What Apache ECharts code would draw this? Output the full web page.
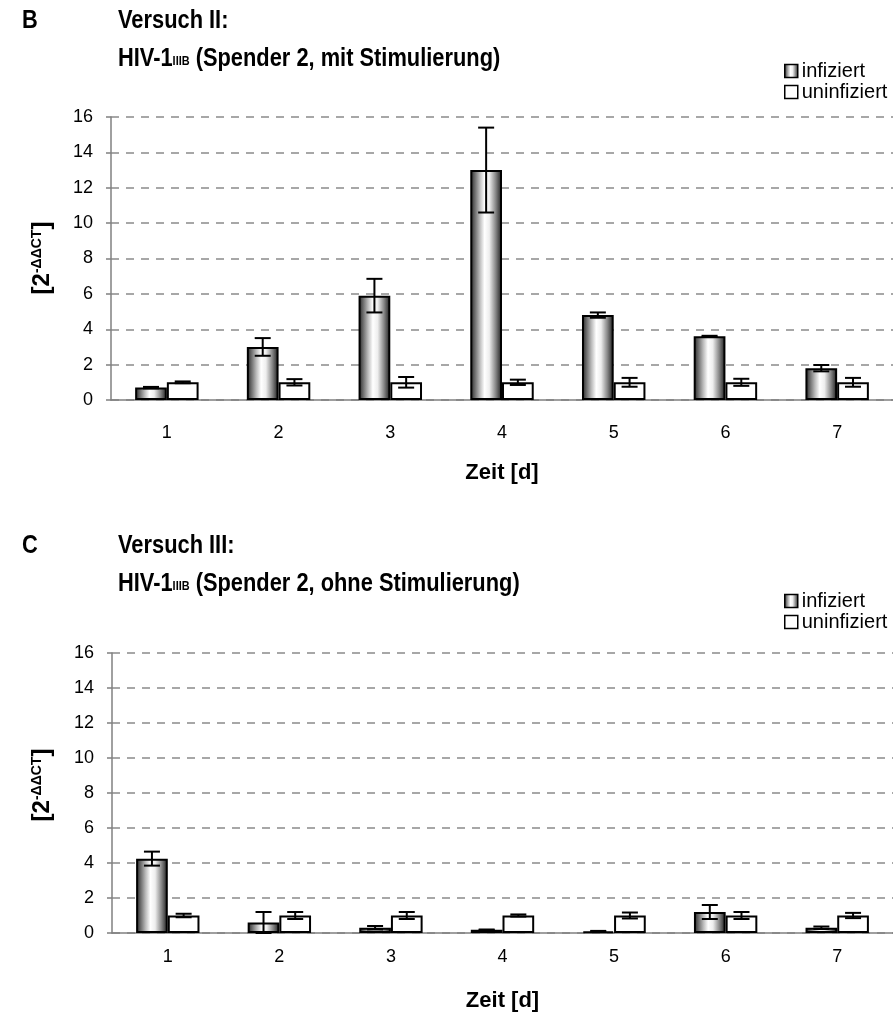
<!DOCTYPE html>
<html>
<head>
<meta charset="utf-8">
<script src="https://cdn.jsdelivr.net/npm/echarts@6/dist/echarts.min.js"></script>
<style>
  html, body { margin: 0; padding: 0; background: #ffffff; }
  #chart { width: 893px; height: 1019px; }
</style>
</head>
<body>
<div id="chart"></div>
<script>
// Days after infection
const days = ['1', '2', '3', '4', '5', '6', '7'];

// Y scale (relative expression, 2^-ΔΔCT)
const yMin = 0;
const yMax = 16;
const yStep = 2;

// Versuch II – with stimulation
const infB = [0.7, 3.0, 5.9, 13.0, 4.8, 3.6, 1.8];
const infBErr = [0.04, 0.5, 0.95, 2.4, 0.15, 0.03, 0.18];
const uninfB = [1, 1, 1, 1, 1, 1, 1];
const uninfBErr = [0.05, 0.18, 0.3, 0.15, 0.25, 0.2, 0.25];

// Versuch III – without stimulation
const infC = [4.25, 0.6, 0.3, 0.18, 0.1, 1.2, 0.3];
const infCErr = [0.4, 0.6, 0.1, 0.02, 0.02, 0.4, 0.07];
const uninfC = [1, 1, 1, 1, 1, 1, 1];
const uninfCErr = [0.1, 0.2, 0.2, 0.06, 0.17, 0.2, 0.15];

const FONT = '"Liberation Sans", Arial, sans-serif';
const BAR_FRAC = 0.284;   // bar width as share of a category band
const TITLE_SQUEEZE = 0.84; // narrow bold heading face

const cylinder = new echarts.graphic.LinearGradient(0, 0, 1, 0, [
  { offset: 0.00, color: '#1a1a1a' },
  { offset: 0.10, color: '#555555' },
  { offset: 0.30, color: '#bbbbbb' },
  { offset: 0.45, color: '#ffffff' },
  { offset: 0.60, color: '#eeeeee' },
  { offset: 0.80, color: '#888888' },
  { offset: 0.95, color: '#333333' },
  { offset: 1.00, color: '#111111' }
]);
const infStyle = { color: cylinder, borderColor: '#000', borderWidth: 2 };
const uninfStyle = { color: '#ffffff', borderColor: '#000', borderWidth: 2 };

function errorBars(side) {
  return function (params, api) {
    const i = api.value(0), v = api.value(1), e = api.value(2);
    const band = api.size([1, 0])[0];
    const x = api.coord([i, v])[0] + side * band * BAR_FRAC / 2;
    const yHi = api.coord([i, v + e])[1];
    const yLo = api.coord([i, v - e])[1];
    const cap = 8;
    const style = { stroke: '#000', lineWidth: 2 };
    return {
      type: 'group',
      children: [
        { type: 'line', shape: { x1: x, y1: yHi, x2: x, y2: yLo }, style },
        { type: 'line', shape: { x1: x - cap, y1: yHi, x2: x + cap, y2: yHi }, style },
        { type: 'line', shape: { x1: x - cap, y1: yLo, x2: x + cap, y2: yLo }, style }
      ]
    };
  };
}

function errData(vals, errs) {
  return vals.map((v, i) => [i, v, errs[i]]);
}

function xAxisFor(gridIndex, labelMargin, nameGap) {
  return {
    type: 'category', gridIndex, data: days,
    axisLine: { lineStyle: { color: '#808080', width: 1.5 } },
    axisTick: { length: 5, lineStyle: { color: '#808080', width: 1.5 } },
    axisLabel: { fontSize: 18, color: '#000', fontFamily: FONT, margin: labelMargin },
    name: 'Zeit [d]', nameLocation: 'middle', nameGap,
    nameTextStyle: { fontSize: 22, fontWeight: 'bold', color: '#000', fontFamily: FONT }
  };
}

function yAxisFor(gridIndex) {
  return {
    type: 'value', gridIndex, min: yMin, max: yMax, interval: yStep,
    axisLine: { show: true, lineStyle: { color: '#808080', width: 1.5 } },
    axisTick: { show: true, length: 5, lineStyle: { color: '#808080', width: 1.5 } },
    axisLabel: { fontSize: 18, color: '#000', fontFamily: FONT, margin: 18 },
    splitLine: { show: true, lineStyle: { color: '#8a8a8a', width: 1.5, type: [8, 7] } }
  };
}

function barSeries(name, data, style, idx) {
  return {
    type: 'bar', name, data, xAxisIndex: idx, yAxisIndex: idx,
    barWidth: (BAR_FRAC * 100) + '%', barGap: '0%',
    itemStyle: style, animation: false, z: 2
  };
}

function errSeries(vals, errs, side, idx) {
  return {
    type: 'custom', data: errData(vals, errs), xAxisIndex: idx, yAxisIndex: idx,
    renderItem: errorBars(side), z: 5, animation: false, silent: true
  };
}

const titleRich = {
  t: { fontSize: 26, fontWeight: 'bold', fontFamily: FONT, fill: '#000' },
  s: { fontSize: 13, fontWeight: 'bold', fontFamily: FONT, fill: '#000', verticalAlign: 'bottom', padding: [0, 0, 4, 0] }
};
const yNameRich = {
  a: { fontSize: 24, fontWeight: 'bold', fontFamily: FONT, fill: '#000' },
  b: { fontSize: 14, fontWeight: 'bold', fontFamily: FONT, fill: '#000', verticalAlign: 'top' }
};

function headText(x, y, text, rich) {
  return {
    type: 'text', x, y, scaleX: TITLE_SQUEEZE,
    style: rich
      ? { text, rich, verticalAlign: 'middle' }
      : { text, font: 'bold 26px ' + FONT, fill: '#000', verticalAlign: 'middle' }
  };
}

function panelText(letter, line1, cond, yLine1, yLine2, yName) {
  return [
    headText(22, yLine1, letter),
    headText(118, yLine1, line1),
    headText(118, yLine2, '{t|HIV-1}{s|IIIB}{t| (Spender 2, ' + cond + ')}', titleRich),
    { type: 'text', x: 42, y: yName, rotation: Math.PI / 2,
      style: { text: '{a|[2}{b|-ΔΔCT}{a|]}', rich: yNameRich, align: 'center', verticalAlign: 'middle' } }
  ];
}

function legendFor(top) {
  return {
    left: 779, top, orient: 'vertical', itemWidth: 13, itemHeight: 13, itemGap: 1,
    icon: 'rect', selectedMode: false,
    textStyle: { fontSize: 20, color: '#000', fontFamily: FONT, padding: [0, 0, 0, -1] },
    data: [
      { name: 'infiziert', itemStyle: { color: cylinder, borderColor: '#000', borderWidth: 1.5 } },
      { name: 'uninfiziert', itemStyle: { color: '#fff', borderColor: '#000', borderWidth: 1.5 } }
    ]
  };
}

const chart = echarts.init(document.getElementById('chart'), null, { renderer: 'canvas' });
chart.setOption({
  backgroundColor: '#ffffff',
  animation: false,
  grid: [
    { left: 111, top: 117, width: 790, height: 283 },
    { left: 112, top: 653, width: 782, height: 280 }
  ],
  xAxis: [xAxisFor(0, 24, 62), xAxisFor(1, 15, 57)],
  yAxis: [yAxisFor(0), yAxisFor(1)],
  legend: [legendFor(56), legendFor(586)],
  graphic: [
    ...panelText('B', 'Versuch II:', 'mit Stimulierung', 21, 59, 258),
    ...panelText('C', 'Versuch III:', 'ohne Stimulierung', 546, 584, 785)
  ],
  series: [
    barSeries('infiziert', infB, infStyle, 0),
    barSeries('uninfiziert', uninfB, uninfStyle, 0),
    errSeries(infB, infBErr, -1, 0),
    errSeries(uninfB, uninfBErr, 1, 0),
    barSeries('infiziert', infC, infStyle, 1),
    barSeries('uninfiziert', uninfC, uninfStyle, 1),
    errSeries(infC, infCErr, -1, 1),
    errSeries(uninfC, uninfCErr, 1, 1)
  ]
});
</script>
</body>
</html>
